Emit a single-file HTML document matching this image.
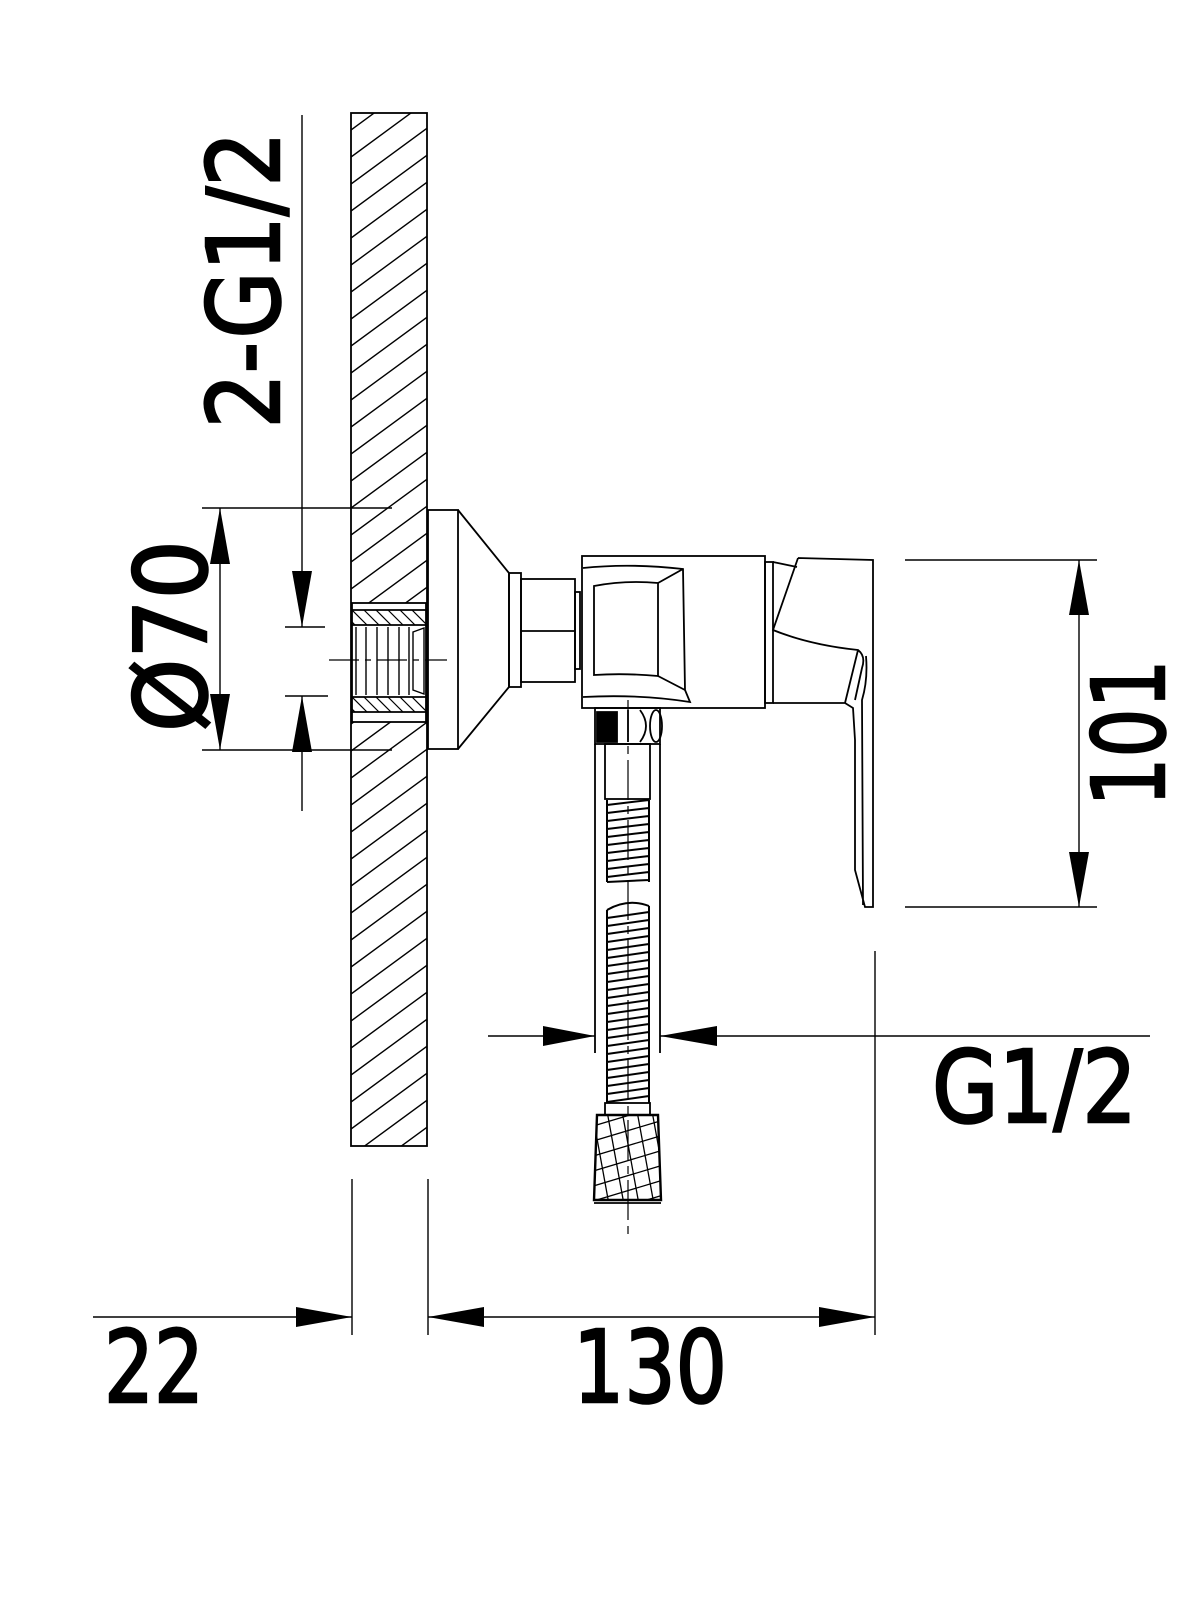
<!DOCTYPE html>
<html><head><meta charset="utf-8"><style>
html,body{margin:0;padding:0;background:#fff}
svg{display:block}
text{font-family:"DejaVu Sans","Liberation Sans",sans-serif;font-size:100px;fill:#000;stroke:#000;stroke-width:2.5}
</style></head><body>
<svg width="1200" height="1600" viewBox="0 0 1200 1600" xmlns="http://www.w3.org/2000/svg">
<defs>
<clipPath id="wall"><rect x="351" y="113" width="76" height="1033"/></clipPath>
<clipPath id="band1"><rect x="352" y="610" width="74" height="15"/></clipPath>
<clipPath id="band2"><rect x="352" y="697" width="74" height="15"/></clipPath>
<clipPath id="noz"><path d="M597 1115 L658 1115 L661 1200 L594 1200 Z"/></clipPath>
</defs>
<g fill="none" stroke="#000" stroke-width="1.8">
<!-- wall -->
<rect x="351" y="113" width="76" height="1033"/>
<g clip-path="url(#wall)" stroke-width="1.4">
<path d="M351 130 L430 72 M351 157 L430 99 M351 184 L430 126 M351 211 L430 153 M351 238 L430 180 M351 265 L430 207 M351 292 L430 234 M351 319 L430 261 M351 346 L430 288 M351 373 L430 315 M351 400 L430 342 M351 427 L430 369 M351 454 L430 396 M351 481 L430 423 M351 508 L430 450 M351 535 L430 477 M351 562 L430 504 M351 589 L430 531 M351 616 L430 558 M351 643 L430 585 M351 670 L430 612 M351 697 L430 639 M351 724 L430 666 M351 751 L430 693 M351 778 L430 720 M351 805 L430 747 M351 832 L430 774 M351 859 L430 801 M351 886 L430 828 M351 913 L430 855 M351 940 L430 882 M351 967 L430 909 M351 994 L430 936 M351 1021 L430 963 M351 1048 L430 990 M351 1075 L430 1017 M351 1102 L430 1044 M351 1129 L430 1071 M351 1156 L430 1098 M351 1183 L430 1125 M351 1210 L430 1152"/>
</g>
<!-- insert -->
<rect x="352" y="603" width="74" height="119" fill="#fff"/>
<line x1="352" y1="610" x2="426" y2="610"/><line x1="352" y1="625" x2="426" y2="625"/>
<line x1="352" y1="697" x2="426" y2="697"/><line x1="352" y1="712" x2="426" y2="712"/>
<g clip-path="url(#band1)" stroke-width="1.2"><path d="M352 610 L367 625 M364 610 L379 625 M376 610 L391 625 M388 610 L403 625 M400 610 L415 625 M412 610 L427 625 M340 610 L355 625"/></g>
<g clip-path="url(#band2)" stroke-width="1.2"><path d="M352 697 L367 712 M364 697 L379 712 M376 697 L391 712 M388 697 L403 712 M400 697 L415 712 M412 697 L427 712 M340 697 L355 712"/></g>
<path stroke-width="1.4" d="M356 627 V695 M366 627 V695 M377 627 V695 M388 627 V695 M399 627 V695 M409 627 V695 M413 632 L424 628 V694 L413 690 Z"/>
<line x1="329" y1="660" x2="447" y2="660" stroke-width="1.2" stroke-dasharray="30 6 6 6"/>
<!-- flange & cone -->
<rect x="428" y="510" width="30" height="239"/>
<path d="M458 510 L509 573 L509 687 L458 749"/>
<rect x="509" y="573" width="12" height="114"/>
<rect x="521" y="579" width="54" height="103"/>
<line x1="521" y1="631" x2="575" y2="631"/>
<rect x="575" y="592" width="5" height="77"/>
<!-- body -->
<rect x="582" y="556" width="183" height="152"/>
<path d="M583 568 Q630 563 683 569 L685 690 L690 702 Q640 694 583 697"/>
<path d="M594 586 Q625 580 658 583 L658 676 Q625 673 594 675 Z"/>
<path d="M658 583 L683 569 M658 676 L685 690"/>
<rect x="765" y="562" width="8" height="141"/>
<path d="M773 562 L797 567"/>
<!-- handle -->
<path d="M798 558 L873 560 L873 907 L865 907 L855 870 L855 740 L853 708 L845 703 L773 703 M798 558 L773 630 Q810 645 858 650 Q866 656 862 668 L855 700 M858 650 L845 703 M866 656 Q868 680 862 700 L863 905"/>
<!-- hose connector -->
<rect x="595" y="708" width="65" height="36"/>
<path d="M597 712 L617 712 L617 742 L597 742 Z" fill="#000"/>
<path d="M640 710 Q652 726 640 742 M628 710 V742"/>
<ellipse cx="656" cy="726" rx="6" ry="16"/>
<line x1="595" y1="744" x2="595" y2="1053"/><line x1="660" y1="744" x2="660" y2="1053"/>
<rect x="605" y="744" width="45" height="55"/>
<path stroke-width="2" d="M607 800 V882 M649 800 V882 M607 805 L649 800 M607 813 L649 808 M607 821 L649 816 M607 829 L649 824 M607 837 L649 832 M607 845 L649 840 M607 853 L649 848 M607 861 L649 856 M607 869 L649 864 M607 877 L649 872 M607 882 L649 880"/>
<path stroke-width="2" d="M607 910 Q628 898 649 906 M607 910 V1103 M649 906 V1103 M607 918 L649 912 M607 926 L649 920 M607 934 L649 928 M607 942 L649 936 M607 950 L649 944 M607 958 L649 952 M607 966 L649 960 M607 974 L649 968 M607 982 L649 976 M607 990 L649 984 M607 998 L649 992 M607 1006 L649 1000 M607 1014 L649 1008 M607 1022 L649 1016 M607 1030 L649 1024 M607 1038 L649 1032 M607 1046 L649 1040 M607 1054 L649 1048 M607 1062 L649 1056 M607 1070 L649 1064 M607 1078 L649 1072 M607 1086 L649 1080 M607 1094 L649 1088 M607 1102 L649 1096"/>
<rect x="605" y="1103" width="45" height="12"/>
<path d="M597 1115 L658 1115 L661 1200 L594 1200 Z" stroke-width="2.4"/>
<g clip-path="url(#noz)" stroke-width="1.3"><path d="M580 1130 L680 1100 M580 1145 L680 1115 M580 1160 L680 1130 M580 1175 L680 1145 M580 1190 L680 1160 M580 1205 L680 1175 M580 1220 L680 1190 M580 1235 L680 1205 M590 1100 L610 1210 M605 1100 L625 1210 M620 1100 L640 1210 M635 1100 L655 1210 M650 1100 L670 1210 M575 1100 L595 1210"/></g>
<line x1="594" y1="1203" x2="661" y2="1203"/>
<line x1="628" y1="700" x2="628" y2="1235" stroke-width="1.2" stroke-dasharray="40 6 8 6"/>
<!-- dimension lines -->
<line x1="202" y1="508" x2="392" y2="508" stroke-width="1.4"/>
<line x1="202" y1="750" x2="392" y2="750" stroke-width="1.4"/>
<line x1="220" y1="508" x2="220" y2="750" stroke-width="1.4"/>
<line x1="302" y1="115" x2="302" y2="627" stroke-width="1.4"/>
<line x1="302" y1="696" x2="302" y2="811" stroke-width="1.4"/>
<line x1="285" y1="627" x2="325" y2="627" stroke-width="1.4"/>
<line x1="285" y1="696" x2="328" y2="696" stroke-width="1.4"/>
<line x1="905" y1="560" x2="1097" y2="560" stroke-width="1.4"/>
<line x1="905" y1="907" x2="1097" y2="907" stroke-width="1.4"/>
<line x1="1079" y1="560" x2="1079" y2="907" stroke-width="1.4"/>
<line x1="875" y1="951" x2="875" y2="1335" stroke-width="1.4"/>
<line x1="352" y1="1179" x2="352" y2="1335" stroke-width="1.4"/>
<line x1="428" y1="1179" x2="428" y2="1335" stroke-width="1.4"/>
<line x1="93" y1="1317" x2="352" y2="1317" stroke-width="1.4"/>
<line x1="428" y1="1317" x2="875" y2="1317" stroke-width="1.4"/>
<line x1="488" y1="1036" x2="595" y2="1036" stroke-width="1.4"/>
<line x1="660" y1="1036" x2="1150" y2="1036" stroke-width="1.4"/>
</g>
<!-- arrowheads -->
<g fill="#000" stroke="none">
<path d="M220 508 L210 564 L230 564 Z"/>
<path d="M220 750 L210 694 L230 694 Z"/>
<path d="M302 627 L292 571 L312 571 Z"/>
<path d="M302 696 L292 752 L312 752 Z"/>
<path d="M1079 560 L1069 615 L1089 615 Z"/>
<path d="M1079 907 L1069 852 L1089 852 Z"/>
<path d="M352 1317 L296 1307 L296 1327 Z"/>
<path d="M428 1317 L484 1307 L484 1327 Z"/>
<path d="M875 1317 L819 1307 L819 1327 Z"/>
<path d="M595 1036 L543 1026 L543 1046 Z"/>
<path d="M660 1036 L717 1026 L717 1046 Z"/>
</g>
<!-- labels -->
<text transform="translate(279,280) rotate(-90)" x="0" y="0" text-anchor="middle" textLength="297" lengthAdjust="spacingAndGlyphs">2-G1/2</text>
<text transform="translate(206,636) rotate(-90)" x="0" y="0" text-anchor="middle" textLength="192" lengthAdjust="spacingAndGlyphs">Ø70</text>
<text transform="translate(1164,733) rotate(-90)" x="0" y="0" text-anchor="middle" textLength="147" lengthAdjust="spacingAndGlyphs">101</text>
<text x="932" y="1122" textLength="205" lengthAdjust="spacingAndGlyphs">G1/2</text>
<text x="104" y="1402" textLength="100" lengthAdjust="spacingAndGlyphs">22</text>
<text x="573" y="1402" textLength="154" lengthAdjust="spacingAndGlyphs">130</text>
</svg>
</body></html>
